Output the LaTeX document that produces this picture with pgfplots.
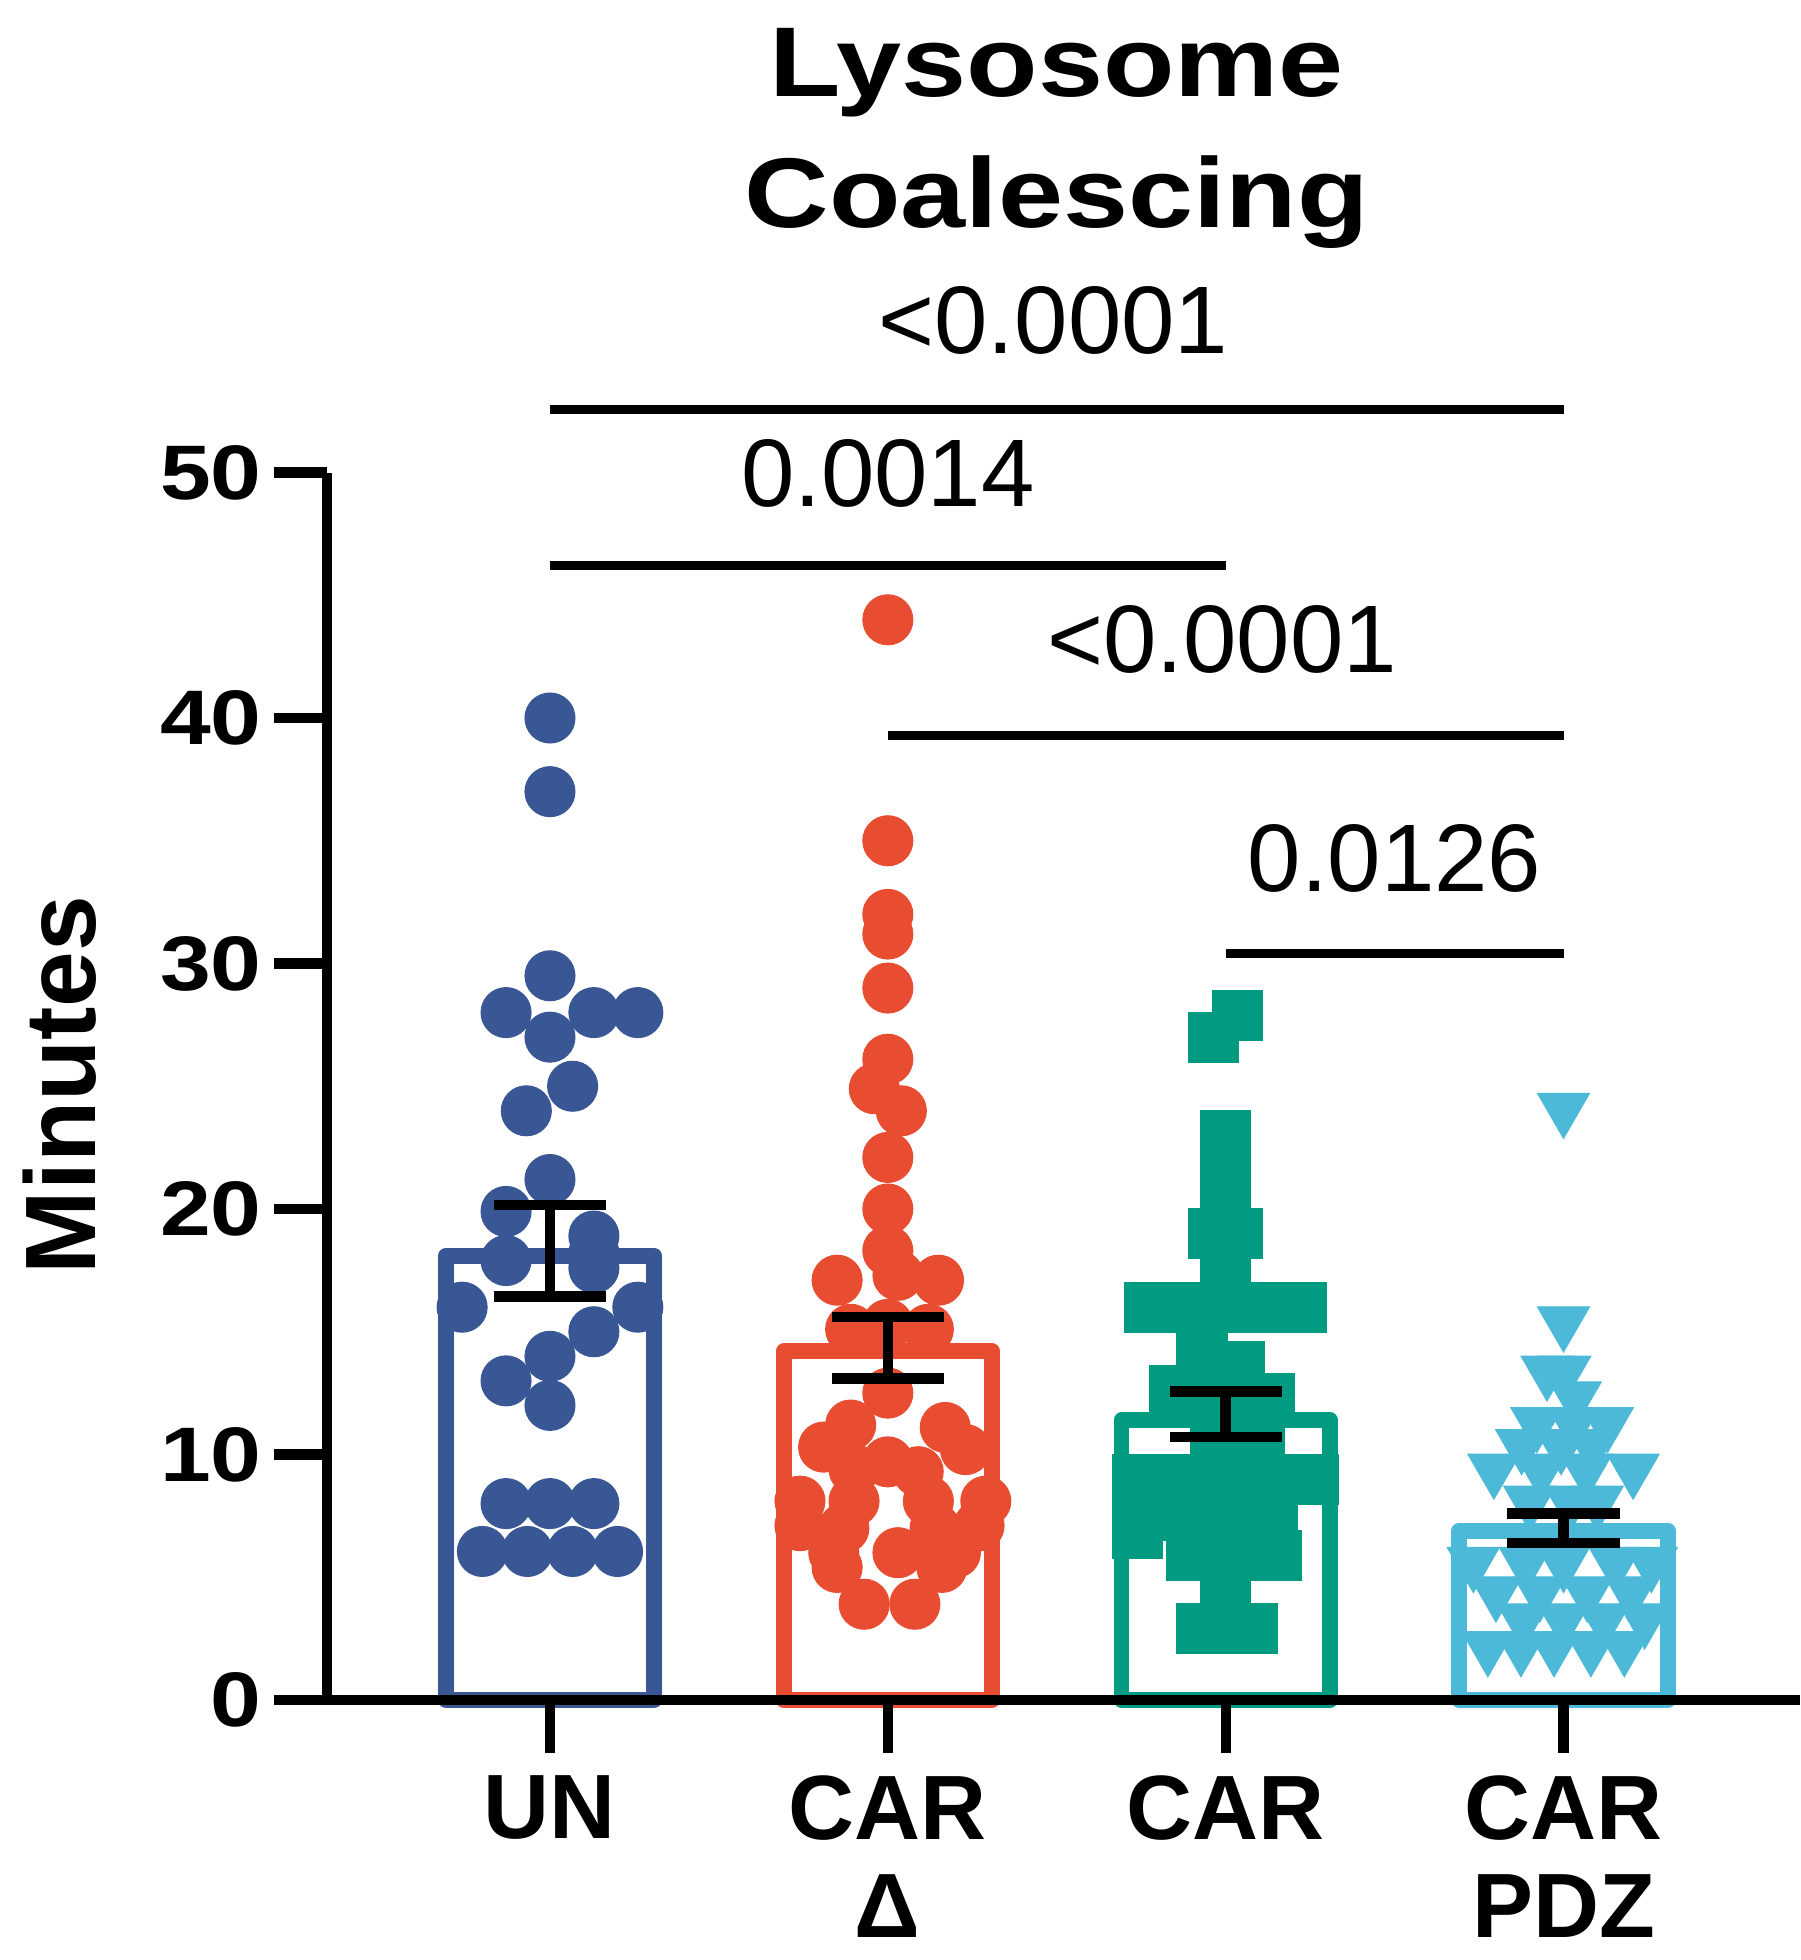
\documentclass[border=0pt]{standalone}
\usepackage{pgfplots}
\pgfplotsset{compat=1.18}
\usetikzlibrary{calc}
\usepackage{fontspec}
\setmainfont{Liberation Sans}
\newfontfamily\widefont[FakeStretch=1.18]{Liberation Sans}

\definecolor{unblue}{RGB}{56,87,148}
\definecolor{deltared}{RGB}{232,77,50}
\definecolor{cargreen}{RGB}{0,155,128}
\definecolor{pdzcyan}{RGB}{75,185,215}

\begin{document}
\begin{tikzpicture}
\begin{axis}[
  name=ax,
  scale only axis,
  width=14.73cm, height=12.275cm,
  xmin=-0.66, xmax=3.70,
  ymin=0, ymax=50,
  axis lines=left,
  axis line style={line width=2.9pt, -},
  axis on top,
  clip=false,
  clip mode=individual,
  tick align=outside,
  major tick length=0.53cm,
  tick style={line width=2.9pt, black},
  xtick={0,1,2,3},
  xticklabels={UN,{CAR\\Δ},CAR,{CAR\\PDZ}},
  xticklabel style={align=center, yshift=-0.1cm, font=\fontsize{26}{28}\selectfont\bfseries},
  ytick={0,10,20,30,40,50},
  yticklabels={0,10,20,30,40,50},
  yticklabel style={font=\widefont\fontsize{22}{26}\selectfont\bfseries},
]

% bars (mean)
\addplot[ybar, bar width=0.617, bar shift=0pt, draw=unblue, fill=none, line width=4.5pt, line join=round, forget plot] coordinates {(0,18.1)};
\addplot[ybar, bar width=0.617, bar shift=0pt, draw=deltared, fill=none, line width=4.5pt, line join=round, forget plot] coordinates {(1,14.2)};
\addplot[ybar, bar width=0.617, bar shift=0pt, draw=cargreen, fill=none, line width=4.5pt, line join=round, forget plot] coordinates {(2,11.4)};
\addplot[ybar, bar width=0.617, bar shift=0pt, draw=pdzcyan, fill=none, line width=4.5pt, line join=round, forget plot] coordinates {(3,6.9)};

% UN
\addplot[only marks, mark=*, mark size=0.25cm, mark options={fill=unblue, draw=unblue, line width=0.3pt}] coordinates {
(0,40.0)(0,37.0)(0,29.5)(0,27.0)(-0.13,28)(0.13,28)(0.26,28)
(0.067,25.0)(-0.07,24.0)(0,21.2)(-0.13,19.9)(0.13,18.9)(0.13,18.2)
(-0.13,17.9)(0.13,17.6)(-0.26,16.0)(0.26,16.0)(0.13,15.0)(0,14.0)
(-0.13,13.0)(0,12.0)(-0.13,8)(0,8)(0.13,8)
(-0.2,6.05)(-0.067,6.05)(0.067,6.05)(0.2,6.05)
};

% CAR delta
\addplot[only marks, mark=*, mark size=0.25cm, mark options={fill=deltared, draw=deltared, line width=0.3pt}] coordinates {
(1,44.0)(1,35.0)(1,32.0)(1,31.2)(1,29.0)(1,26.1)(0.96,24.9)(1.04,24.0)
(1,22.1)(1,20.0)(1,18.3)(0.85,17.1)(1.15,17.1)(1.03,17.3)
(0.89,15.1)(1.12,15.1)(1,15.3)
(1,12.5)(0.89,11.2)(1.17,11.1)(0.81,10.3)(1.23,10.2)(1.0,9.7)(1.09,9.3)(0.9,9.4)
(0.74,8.1)(0.9,8.1)(1.12,8.1)(1.29,8.1)(0.74,7.1)(0.87,7.0)(1.14,7.0)(1.27,7.1)
(0.84,6.0)(1.03,6.0)(1.2,6.0)(0.85,5.4)(1.16,5.4)(0.93,3.9)(1.08,3.9)
};

% CAR
\addplot[only marks, mark=square*, mark size=0.25cm, mark options={fill=cargreen, draw=cargreen, line width=0.3pt}] coordinates {
(2.036,27.9)(1.964,27.0)(2,23.0)(2,22.0)(2,21.0)(1.964,19.0)(2.036,19.0)(2,18.0)
(1.775,16.0)(1.925,16.0)(2.075,16.0)(2.225,16.0)(1.93,14.0)(2.04,13.6)
(1.85,12.6)(2,12.0)(2.13,12.3)(1.97,10.5)(2.1,10.5)
(1.74,9.0)(1.86,9.0)(2,9.0)(2.14,9.0)(2.26,9.0)
(1.74,7.5)(1.86,7.5)(2,7.5)(2.14,7.5)(1.74,6.8)
(1.9,5.9)(2.04,5.9)(2.15,5.9)(2,4.5)(1.93,2.9)(2.08,2.9)
};

% CAR PDZ
\addplot[only marks, mark=triangle*, mark size=0.3cm, mark options={rotate=180, fill=pdzcyan, draw=pdzcyan, line width=0.3pt}] coordinates {
(3,24.1)(3,15.4)(2.951,13.4)(3.004,13.4)(3.035,12.35)
(2.921,11.3)(3.03,11.3)(3.13,11.3)(2.876,10.4)(2.993,10.4)(3.085,10.4)
(2.794,9.4)(2.933,9.4)(3.067,9.4)(3.206,9.4)(2.9,8.1)(3.02,8.1)(3.1,8.1)
(2.733,5.6)(2.887,5.6)(3.0,5.6)(3.153,5.6)(3.26,5.6)
(2.8,4.4)(2.93,4.4)(3.07,4.4)(3.2,4.4)
(2.88,3.3)(3.0,3.3)(3.12,3.3)(3.24,3.3)
(2.776,2.17)(2.874,2.17)(2.972,2.17)(3.081,2.17)(3.18,2.17)
};

% mean +- SEM: stems and caps
\pgfplotsset{errline/.style={black, line width=3pt, forget plot}}
\addplot[errline] coordinates {(0,16.43)(0,20.17)};
\addplot[errline] coordinates {(-0.166,16.43)(0.166,16.43)};
\addplot[errline] coordinates {(-0.166,20.17)(0.166,20.17)};
\addplot[errline] coordinates {(1,13.1)(1,15.6)};
\addplot[errline] coordinates {(0.834,13.1)(1.166,13.1)};
\addplot[errline] coordinates {(0.834,15.6)(1.166,15.6)};
\addplot[errline] coordinates {(2,10.72)(2,12.56)};
\addplot[errline] coordinates {(1.834,10.72)(2.166,10.72)};
\addplot[errline] coordinates {(1.834,12.56)(2.166,12.56)};
\addplot[errline] coordinates {(3,6.4)(3,7.6)};
\addplot[errline] coordinates {(2.834,6.4)(3.166,6.4)};
\addplot[errline] coordinates {(2.834,7.6)(3.166,7.6)};

% significance bars
\addplot[black, line width=2.6pt, forget plot] coordinates {(0,52.55)(3,52.55)};
\addplot[black, line width=2.6pt, forget plot] coordinates {(0,46.2)(2,46.2)};
\addplot[black, line width=2.6pt, forget plot] coordinates {(1,39.3)(3,39.3)};
\addplot[black, line width=2.6pt, forget plot] coordinates {(2,30.4)(3,30.4)};

\node[anchor=base, font=\fontsize{27.3}{32}\selectfont] at (axis cs:1.49,54.83) {<0.0001};
\node[anchor=base, font=\fontsize{27.3}{32}\selectfont] at (axis cs:1.0,48.6) {0.0014};
\node[anchor=base, font=\fontsize{27.3}{32}\selectfont] at (axis cs:1.99,41.85) {<0.0001};
\node[anchor=base, font=\fontsize{27.3}{32}\selectfont] at (axis cs:2.5,32.95) {0.0126};

\node[anchor=base, font=\widefont\fontsize{28.2}{34}\selectfont\bfseries] at (axis cs:1.5,65.3) {Lysosome};
\node[anchor=base, font=\widefont\fontsize{28.2}{34}\selectfont\bfseries] at (axis cs:1.5,59.96) {Coalescing};

\node[rotate=90, font=\fontsize{28.5}{34}\selectfont\bfseries] at (axis cs:-1.452,25.05) {Minutes};
\end{axis}
\pgfresetboundingbox
\path[use as bounding box] ($(ax.south west)+(-3.27cm,-2.60cm)$) rectangle ($(ax.south west)+(14.73cm,17.0cm)$);
\end{tikzpicture}
\end{document}
